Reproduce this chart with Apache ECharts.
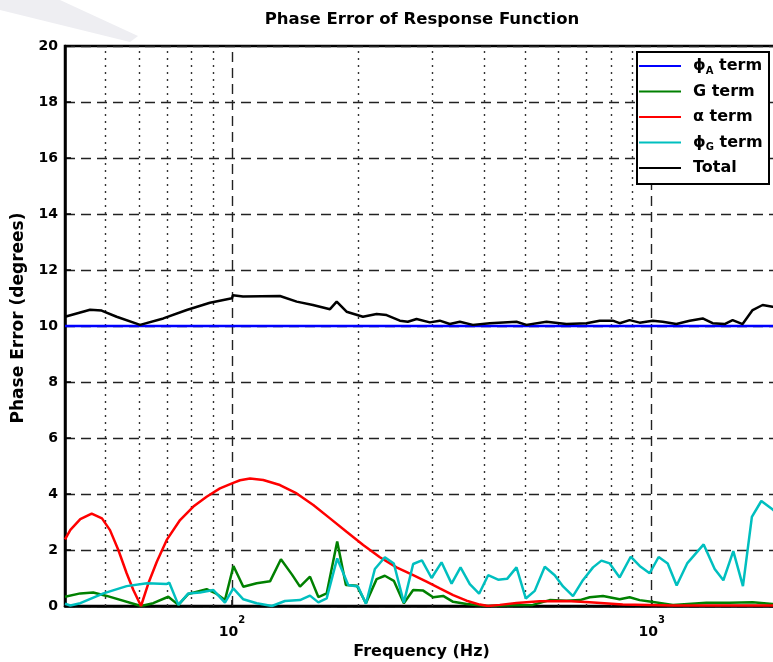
<!DOCTYPE html>
<html>
<head>
<meta charset="utf-8">
<script src="https://cdn.jsdelivr.net/npm/echarts@6/dist/echarts.min.js"></script>
<style>
  html, body { margin: 0; padding: 0; background: #fff; }
  #chart { width: 773px; height: 662px; }
</style>
</head>
<body>
<div id="chart"></div>
<script>
// Text
const titleText = 'Phase Error of Response Function';
const xAxisTitle = 'Frequency (Hz)';
const yAxisTitle = 'Phase Error (degrees)';
const seriesNames = ['\u03d5_A term', 'G term', '\u03b1 term', '\u03d5_G term', 'Total'];

// Axes
const freqRange = [40, 2000];
const yMin = 0, yMax = 20, yStep = 2;
const labelledExponents = [2, 3];
const majorFreqs = [100, 1000];
const minorFreqs = [50, 60, 70, 80, 90, 200, 300, 400, 500, 600, 700, 800, 900];

// Series: [frequency (Hz), phase error (degrees)]
const phiATerm = [[40, 10], [2000, 10]];

const gTerm = [
  [40.0, 0.33], [43.5, 0.45], [46.7, 0.48], [50.3, 0.36], [60.7, 0.0], [64.9, 0.1],
  [70.5, 0.33], [74.5, 0.04], [78.7, 0.43], [87.0, 0.6], [92.0, 0.43], [96.2, 0.21],
  [100.8, 1.43], [106.4, 0.69], [114.5, 0.81], [123.2, 0.88], [130.8, 1.67],
  [139.0, 1.12], [145.2, 0.69], [153.4, 1.05], [160.6, 0.32], [168.1, 0.45],
  [178.1, 2.3], [186.8, 0.75], [198.5, 0.72], [208.5, 0.1], [221.1, 0.96],
  [231.3, 1.08], [243.0, 0.9], [256.7, 0.1], [270.2, 0.57], [285.5, 0.55],
  [301.5, 0.31], [318.5, 0.36], [336.5, 0.15], [362.2, 0.07], [404.2, 0.0],
  [459.2, 0.03], [520.8, 0.04], [571.6, 0.21], [626.6, 0.19], [674.1, 0.21],
  [711.9, 0.31], [765.6, 0.36], [838.9, 0.24], [886.2, 0.31], [936.3, 0.21],
  [998.4, 0.15], [1124, 0.04], [1350, 0.12], [1534, 0.12], [1740, 0.13],
  [1941, 0.07], [2000, 0.08]
];

const alphaTerm = [
  [40.0, 2.38], [41.2, 2.72], [43.5, 3.1], [46.3, 3.3], [49.0, 3.13], [51.2, 2.71],
  [53.6, 2.0], [56.1, 1.17], [58.2, 0.57], [60.7, 0.0], [63.2, 0.81], [66.2, 1.58],
  [69.9, 2.36], [75.2, 3.07], [80.9, 3.55], [87.0, 3.9], [93.6, 4.2], [100.7, 4.4],
  [104.5, 4.49], [110.4, 4.55], [118.7, 4.5], [130.1, 4.32], [142.6, 4.02],
  [156.2, 3.61], [171.2, 3.13], [187.5, 2.65], [205.4, 2.18], [225.1, 1.74],
  [246.6, 1.38], [270.2, 1.1], [290.8, 0.87], [312.7, 0.63], [336.5, 0.39],
  [362.2, 0.19], [389.5, 0.05], [407.7, 0.0], [434.6, 0.04], [476.3, 0.11],
  [541.2, 0.17], [626.6, 0.18], [711.9, 0.13], [853.1, 0.05], [1120, 0.02],
  [2000, 0.02]
];

const phiGTerm = [
  [40.0, 0.08], [41.2, 0.02], [43.5, 0.1], [49.4, 0.45], [56.1, 0.71], [62.7, 0.81],
  [69.9, 0.79], [70.9, 0.83], [74.5, 0.04], [78.7, 0.45], [83.9, 0.48], [90.3, 0.57],
  [96.2, 0.12], [100.7, 0.63], [106.4, 0.24], [114.5, 0.1], [124.5, 0.0],
  [133.7, 0.18], [145.2, 0.21], [153.4, 0.37], [160.6, 0.13], [168.1, 0.27],
  [178.1, 1.7], [189.2, 0.75], [199.5, 0.7], [208.5, 0.08], [219.0, 1.32],
  [231.3, 1.74], [243.0, 1.52], [256.7, 0.12], [270.2, 1.5], [283.5, 1.63],
  [298.9, 1.0], [315.7, 1.56], [333.6, 0.8], [350.4, 1.38], [368.7, 0.78],
  [388.0, 0.44], [407.7, 1.1], [430.6, 0.94], [452.4, 0.97], [476.3, 1.38],
  [501.2, 0.27], [526.5, 0.54], [556.3, 1.4], [587.5, 1.1], [615.0, 0.7],
  [649.4, 0.35], [686.3, 0.93], [724.8, 1.38], [759.0, 1.62], [794.3, 1.52],
  [838.9, 1.02], [891.3, 1.76], [936.3, 1.43], [989.0, 1.17], [1039, 1.75],
  [1092, 1.52], [1147, 0.73], [1215, 1.52], [1330, 2.2], [1413, 1.32],
  [1482, 0.92], [1565, 1.96], [1650, 0.71], [1733, 3.18], [1825, 3.75],
  [1936, 3.46], [2000, 3.3]
];

const totalTerm = [
  [40.0, 10.33], [45.9, 10.58], [48.9, 10.55], [53.1, 10.33], [60.4, 10.04],
  [68.6, 10.27], [78.0, 10.57], [88.6, 10.83], [100.0, 10.99], [100.5, 11.1],
  [106.2, 11.05], [130.1, 11.07], [142.6, 10.87], [155.9, 10.75], [171.2, 10.6],
  [177.6, 10.87], [187.5, 10.51], [205.1, 10.33], [221.1, 10.43], [233.5, 10.39],
  [251.2, 10.19], [262.4, 10.15], [275.3, 10.25], [296.1, 10.13], [312.7, 10.19],
  [330.4, 10.07], [349.1, 10.15], [374.9, 10.04], [411.5, 10.1], [476.3, 10.15],
  [503.0, 10.04], [561.5, 10.15], [626.6, 10.07], [699.2, 10.1], [751.8, 10.19],
  [807.7, 10.19], [838.9, 10.1], [886.2, 10.21], [936.3, 10.12], [1005.5, 10.19],
  [1062, 10.15], [1145, 10.07], [1232, 10.19], [1323, 10.27], [1397, 10.1],
  [1492, 10.07], [1559, 10.21], [1647, 10.07], [1740, 10.57], [1838, 10.75],
  [1941, 10.69], [2000, 10.65]
];

const seriesData = [phiATerm, gTerm, alphaTerm, phiGTerm, totalTerm];
const seriesColors = ['#0000ff', '#008000', '#ff0000', '#00bfbf', '#000000'];

const FONT = '"DejaVu Sans", Verdana, sans-serif';

const chart = echarts.init(document.getElementById('chart'), null, { renderer: 'canvas' });

// Vertical grid lines at decades (dashed) and in-between frequencies (dotted)
const verticalGrid = {
  silent: true,
  z: 1,
  symbol: ['none', 'none'],
  label: { show: false },
  data: [
    ...majorFreqs.map(f => ({ xAxis: f, lineStyle: { type: [10, 6], color: '#222', width: 1.4 } })),
    ...minorFreqs.map(f => ({ xAxis: f, lineStyle: { type: [2, 5], color: '#333', width: 1.4 } }))
  ]
};

const series = seriesNames.map((name, i) => ({
  name: name,
  type: 'line',
  data: seriesData[i],
  showSymbol: false,
  symbol: 'none',
  smooth: false,
  z: 2 + i,
  lineStyle: { color: seriesColors[i], width: 2.5 },
  itemStyle: { color: seriesColors[i] },
  emphasis: { disabled: true },
  markLine: i === 0 ? verticalGrid : undefined
}));

chart.setOption({
  animation: false,
  backgroundColor: '#fff',
  grid: {
    left: 65, top: 46, width: 713, height: 560,
    containLabel: false,
    outerBoundsMode: 'none',
    show: true, borderColor: '#000', borderWidth: 2.5, backgroundColor: 'transparent'
  },
  xAxis: {
    type: 'log', logBase: 10,
    min: freqRange[0], max: freqRange[1],
    name: xAxisTitle, nameLocation: 'middle', nameGap: 36,
    nameTextStyle: { fontFamily: FONT, fontWeight: 'bold', fontSize: 16, color: '#000', verticalAlign: 'top' },
    axisLine: { show: true, lineStyle: { color: '#000', width: 2.5 } },
    axisTick: { show: true, inside: true, length: 6, lineStyle: { color: '#000', width: 1.5 } },
    splitLine: { show: false },
    axisLabel: {
      margin: 9,
      showMinLabel: false, showMaxLabel: false,
      formatter: function (v) {
        const e = Math.log10(v);
        const r = Math.round(e);
        if (Math.abs(e - r) < 1e-6 && labelledExponents.indexOf(r) >= 0) {
          return '{b|10}{e|' + r + '}';
        }
        return '';
      },
      rich: {
        b: { fontFamily: FONT, fontWeight: 'bold', fontSize: 14, color: '#000', lineHeight: 24, verticalAlign: 'bottom' },
        e: { fontFamily: FONT, fontWeight: 'bold', fontSize: 10, color: '#000', lineHeight: 10, verticalAlign: 'top' }
      }
    }
  },
  yAxis: {
    type: 'value', min: yMin, max: yMax, interval: yStep,
    axisLine: { show: true, lineStyle: { color: '#000', width: 2.5 } },
    axisTick: { show: true, inside: true, length: 6, lineStyle: { color: '#000', width: 1.5 } },
    splitLine: { show: true, lineStyle: { type: [10, 6], color: '#222', width: 1.4 } },
    axisLabel: { margin: 7, fontFamily: FONT, fontWeight: 'bold', fontSize: 14, color: '#000' }
  },
  legend: {
    orient: 'vertical',
    left: 638, top: 56,
    padding: 0,
    itemGap: 5.5,
    itemWidth: 42, itemHeight: 20,
    selectedMode: false,
    z: 20,
    data: seriesNames,
    itemStyle: { opacity: 0 },
    formatter: function (name) {
      return name.replace(/_(\w)/, '{sub|$1}');
    },
    textStyle: {
      fontFamily: FONT, fontWeight: 'bold', fontSize: 16, color: '#000',
      lineHeight: 20, padding: [0, 0, 0, 7],
      rich: {
        sub: { fontFamily: FONT, fontWeight: 'bold', fontSize: 10, color: '#000', lineHeight: 6, verticalAlign: 'bottom' }
      }
    }
  },
  graphic: [
    {
      type: 'polygon', z: 0, silent: true,
      shape: { points: [[22, 0], [60, 0], [138, 36], [130, 42], [0, 10], [0, 0]] },
      style: { fill: '#eeeef2' }
    },
    {
      type: 'rect', z: 15, silent: true,
      shape: { x: 637, y: 52, width: 132, height: 132 },
      style: { fill: '#fff', stroke: '#000', lineWidth: 2 }
    },
    {
      type: 'text', z: 20, silent: true,
      x: 422, y: 20,
      style: {
        text: titleText,
        font: 'bold 16.5px ' + FONT,
        fill: '#000',
        textAlign: 'center', textVerticalAlign: 'middle',
        align: 'center', verticalAlign: 'middle'
      }
    },
    {
      type: 'text', z: 20, silent: true,
      x: 19, y: 318, rotation: Math.PI / 2,
      style: {
        text: yAxisTitle,
        font: 'bold 17px ' + FONT,
        fill: '#000',
        textAlign: 'center', textVerticalAlign: 'middle',
        align: 'center', verticalAlign: 'middle'
      }
    }
  ],
  series: series
});
</script>
</body>
</html>
